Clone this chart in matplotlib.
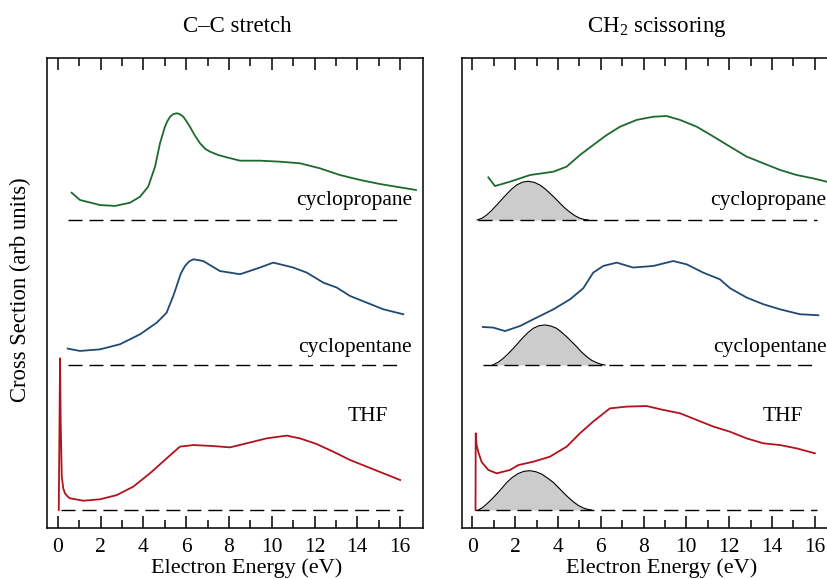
import numpy as np
import matplotlib
matplotlib.use('Agg')
import matplotlib.pyplot as plt

plt.rcParams['font.family'] = ['Liberation Serif', 'DejaVu Serif']
plt.rcParams['mathtext.fontset'] = 'custom'
plt.rcParams['mathtext.rm'] = 'Liberation Serif'

# ---- data (height above each trace's own baseline) ----
# C-C stretch panel
cc_prop_x = [0.65, 1.04, 1.98, 2.68, 3.38, 3.85, 4.23, 4.55, 4.78, 5.01, 5.12, 5.25, 5.40, 5.56, 5.70,
             5.87, 6.02, 6.18, 6.40, 6.65, 6.90, 7.12, 7.50, 7.90, 8.52, 9.45, 10.39, 11.32, 12.26,
             13.19, 14.13, 15.06, 16.0, 16.74]
cc_prop_y = [0.188, 0.138, 0.103, 0.097, 0.119, 0.161, 0.23, 0.368, 0.529, 0.643, 0.680, 0.712, 0.730,
             0.736, 0.730, 0.712, 0.680, 0.643, 0.585, 0.529, 0.490, 0.471, 0.448, 0.432, 0.409, 0.409,
             0.402, 0.391, 0.356, 0.310, 0.276, 0.248, 0.225, 0.207]

cc_pent_x = [0.47, 1.04, 1.98, 2.91, 3.85, 4.63, 5.09, 5.40, 5.56, 5.75, 5.95, 6.15, 6.34, 6.80, 7.58,
             8.52, 9.45, 10.07, 11.01, 11.64, 12.41, 13.04, 13.66, 14.44, 15.22, 16.15]
cc_pent_y = [0.113, 0.097, 0.108, 0.143, 0.212, 0.292, 0.361, 0.476, 0.545, 0.630, 0.683, 0.715, 0.729,
             0.717, 0.648, 0.626, 0.672, 0.706, 0.672, 0.637, 0.568, 0.534, 0.476, 0.430, 0.384, 0.350]

cc_thf_x = [0.05, 0.11, 0.14, 0.19, 0.26, 0.34, 0.45, 0.57, 1.2, 1.98, 2.76, 3.53, 4.31, 5.09, 5.71, 6.34,
            7.27, 8.05, 8.83, 9.76, 10.70, 11.32, 12.10, 12.88, 13.66, 14.44, 15.22, 16.0]
cc_thf_y = [0.0, 1.046, 0.60, 0.23, 0.15, 0.115, 0.095, 0.081, 0.064, 0.074, 0.103, 0.161, 0.253, 0.356,
            0.437, 0.448, 0.441, 0.432, 0.46, 0.494, 0.513, 0.494, 0.455, 0.402, 0.345, 0.299, 0.253, 0.207]

# CH2 scissoring panel
sc_prop_x = [0.75, 1.06, 1.76, 2.70, 3.79, 4.41, 5.03, 5.65, 6.28, 6.90, 7.68, 8.46, 9.08, 9.71, 10.49,
             11.27, 12.04, 12.82, 13.60, 14.38, 15.16, 15.93, 16.56, 17.0]
sc_prop_y = [0.294, 0.234, 0.264, 0.310, 0.333, 0.368, 0.448, 0.517, 0.586, 0.643, 0.690, 0.712, 0.717,
             0.690, 0.643, 0.575, 0.506, 0.437, 0.391, 0.345, 0.310, 0.287, 0.264, 0.255]

sc_pent_x = [0.49, 0.98, 1.53, 2.23, 3.01, 3.79, 4.57, 5.19, 5.65, 6.12, 6.75, 7.52, 8.46, 9.39, 10.02,
             10.79, 11.57, 12.04, 12.82, 13.60, 14.38, 15.31, 16.17]
sc_pent_y = [0.262, 0.258, 0.234, 0.269, 0.327, 0.384, 0.453, 0.53, 0.637, 0.683, 0.706, 0.672, 0.683,
             0.717, 0.694, 0.637, 0.591, 0.53, 0.465, 0.419, 0.384, 0.350, 0.343]

sc_thf_x = [0.15, 0.16, 0.20, 0.28, 0.44, 0.75, 1.14, 1.76, 2.15, 2.85, 3.63, 4.41, 5.03, 5.65, 6.43,
            7.21, 8.15, 8.93, 9.71, 10.49, 11.27, 12.04, 12.82, 13.60, 14.38, 15.16, 16.01]
sc_thf_y = [0.0, 0.529, 0.45, 0.40, 0.33, 0.276, 0.253, 0.276, 0.31, 0.333, 0.368, 0.437, 0.529, 0.61,
            0.701, 0.713, 0.717, 0.690, 0.667, 0.621, 0.575, 0.540, 0.494, 0.460, 0.448, 0.425, 0.391]

# vibrational excitation envelopes (grey shapes)
g_prop_x = [0.23, 0.45, 0.67, 0.90, 1.14, 1.38, 1.61, 1.84, 2.07, 2.35, 2.62, 2.90, 3.16, 3.40, 3.63,
            3.87, 4.10, 4.33, 4.57, 4.80, 5.03, 5.22, 5.42]
g_prop_y = [0.0, 0.012, 0.034, 0.065, 0.103, 0.142, 0.179, 0.213, 0.241, 0.261, 0.267, 0.259, 0.241,
            0.215, 0.184, 0.150, 0.115, 0.082, 0.053, 0.029, 0.012, 0.004, 0.0]
g_pent_x = [0.95, 1.20, 1.45, 1.68, 1.92, 2.15, 2.38, 2.62, 2.85, 3.12, 3.40, 3.67, 3.94, 4.17, 4.41,
            4.65, 4.88, 5.10, 5.35, 5.58, 5.81, 6.00, 6.20]
g_pent_y = [0.0, 0.018, 0.046, 0.078, 0.115, 0.153, 0.191, 0.226, 0.253, 0.271, 0.276, 0.269, 0.253,
            0.226, 0.195, 0.160, 0.126, 0.090, 0.057, 0.032, 0.016, 0.006, 0.0]
g_thf_x = [0.28, 0.47, 0.67, 0.90, 1.14, 1.38, 1.61, 1.88, 2.15, 2.42, 2.70, 2.97, 3.24, 3.50, 3.79,
           4.02, 4.25, 4.48, 4.72, 4.95, 5.19, 5.38, 5.58]
g_thf_y = [0.0, 0.016, 0.041, 0.073, 0.110, 0.150, 0.190, 0.226, 0.252, 0.267, 0.271, 0.264, 0.248,
           0.222, 0.190, 0.156, 0.121, 0.088, 0.057, 0.032, 0.014, 0.005, 0.0]

names = ['cyclopropane', 'cyclopentane', 'THF']
offsets = [2, 1, 0]
colours = ['#1d6a2c', '#1f4a74', '#b3121c']

left_traces = [(cc_prop_x, cc_prop_y), (cc_pent_x, cc_pent_y), (cc_thf_x, cc_thf_y)]
right_traces = [(sc_prop_x, sc_prop_y), (sc_pent_x, sc_pent_y), (sc_thf_x, sc_thf_y)]
envelopes = [(g_prop_x, g_prop_y), (g_pent_x, g_pent_y), (g_thf_x, g_thf_y)]
left_base_start = [0.47, 0.47, 0.15]
right_base_start = [0.28, 0.49, 0.13]

#%%
W, H = 827, 579
fig = plt.figure(figsize=(W / 100, H / 100), dpi=100)

ax1 = fig.add_axes([47 / W, 51 / H, 376 / W, 470 / H])
ax2 = fig.add_axes([461.6 / W, 51 / H, 376 / W, 470 / H])

for ax, traces, starts in [(ax1, left_traces, left_base_start), (ax2, right_traces, right_base_start)]:
    for i, (x, y) in enumerate(traces):
        off = offsets[i]
        if ax is ax2:
            gx, gy = envelopes[i]
            ax.fill_between(gx, off, np.array(gy) + off, color='#cccccc', lw=0, zorder=1)
            ax.plot(gx, np.array(gy) + off, color='k', lw=0.8, zorder=2)
        ax.plot([starts[i], 16.12], [off, off], color='k', lw=1.0,
                dashes=(10.1, 5.0), zorder=3)
        ax.plot(x, np.array(y) + off, color=colours[i], lw=1.3, zorder=4)

    ax.text(16.55, 2.131, names[0], ha='right', va='center', fontsize=15.5)
    ax.text(16.55, 1.12, names[1], ha='right', va='center', fontsize=15.5)
    ax.text(14.5, 0.643, names[2], ha='center', va='center', fontsize=15.5)

    ax.set_xlim(-0.5, 17.07)
    ax.set_ylim(-0.124, 3.117)
    ax.set_xticks(np.arange(0, 17, 2))
    ax.set_xticks(np.arange(1, 17, 2), minor=True)
    ax.set_yticks([])
    ax.tick_params(axis='x', which='both', direction='in', top=True, bottom=True,
                   width=1.1, labelsize=15.5, pad=7)
    ax.tick_params(axis='x', which='major', length=8.8)
    ax.tick_params(axis='x', which='minor', length=5.5)
    for s in ax.spines.values():
        s.set_linewidth(1.1)

fig.text(237 / W, 1 - 27 / H, 'C\u2013C stretch', ha='center', va='center', fontsize=16.5)
fig.text(657 / W, 1 - 27 / H, r'CH$_\mathrm{2}$ scissoring', ha='center', va='center', fontsize=16.5)
fig.text(247 / W, 1 - 568 / H, 'Electron Energy (eV)', ha='center', va='center', fontsize=16)
fig.text(662 / W, 1 - 568 / H, 'Electron Energy (eV)', ha='center', va='center', fontsize=16)
fig.text(20 / W, 1 - 290 / H, 'Cross Section (arb units)', ha='center', va='center',
         rotation=90, fontsize=16.3)

fig.savefig('out.png', dpi=100)
